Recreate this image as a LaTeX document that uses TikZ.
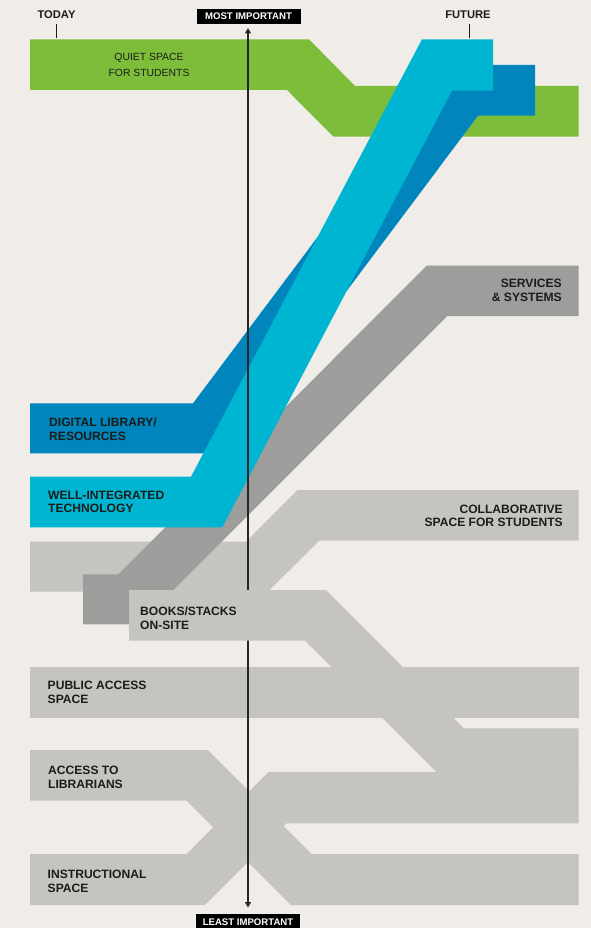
\documentclass[tikz,border=0pt]{standalone}
\usepackage{fontspec}
\setmainfont{Liberation Sans}
\usetikzlibrary{arrows.meta}
\definecolor{bgc}{HTML}{F0EDE8}
\definecolor{greenc}{HTML}{7DBD3A}
\definecolor{cyanc}{HTML}{00B5D2}
\definecolor{bluec}{HTML}{0086BC}
\definecolor{dgrayc}{HTML}{9D9D9B}
\definecolor{lgrayc}{HTML}{C6C4C1}
\definecolor{txtc}{HTML}{1C1C1A}
\tikzset{
  band/.style={draw=none},
  lbl/.style={inner sep=0pt, text=txtc, font=\bfseries\fontsize{12.1}{13.7}\selectfont},
  lleft/.style={lbl, anchor=west, align=left},
  lright/.style={lbl, anchor=east, align=right},
  tag/.style={fill=black, text=white, inner sep=0pt, minimum width=104pt, minimum height=15pt, font=\bfseries\fontsize{9.6}{10}\selectfont},
  hdr/.style={inner sep=0pt, text=txtc, font=\bfseries\fontsize{11.2}{12}\selectfont},
  tick/.style={draw=txtc, line width=0.9pt},
  axis/.style={draw=black!85, line width=1.5pt, {Triangle[length=5.5pt,width=6pt]}-{Triangle[length=5.5pt,width=6pt]}}
}
\begin{document}
\begin{tikzpicture}[x=1pt, y=-1pt]
\fill[bgc] (0,0) rectangle (591,928);
\useasboundingbox (0,0) rectangle (591,928);
% light gray bands
\fill[lgrayc] (30,541.7) -- (246,541.7) -- (297.5,490) -- (578.5,490) -- (578.5,540.5) -- (319.3,540.5) -- (268,591.7) -- (30,591.7) -- cycle;
\fill[lgrayc] (29.5,667.3) rectangle (578.5,717.7);
\fill[lgrayc] (30,750) -- (208,750) -- (311.5,854) -- (578.5,854) -- (578.5,905) -- (290.9,905) -- (186.6,800.7) -- (30,800.7) -- cycle;
\fill[lgrayc] (30,854) -- (186.6,854) -- (268.6,772) -- (578.5,772) -- (578.5,823.3) -- (286.5,823.3) -- (204.8,905) -- (30,905) -- cycle;
% dark gray band
\fill[dgrayc] (83,574.3) -- (118.4,574.3) -- (426.7,265.7) -- (578.5,265.7) -- (578.5,316) -- (447.3,316) -- (139,624.3) -- (83,624.3) -- cycle;
% green band
\fill[greenc] (30,39.3) -- (309,39.3) -- (355,86) -- (578.5,86) -- (578.5,136.7) -- (333.6,136.7) -- (287,90) -- (30,90) -- cycle;
% dark blue band
\fill[bluec] (30,403.3) -- (193,403.3) -- (446.5,65) -- (535,65) -- (535,115.7) -- (478,115.7) -- (225,453.3) -- (30,453.3) -- cycle;
% cyan band
\fill[cyanc] (30,476.7) -- (191,476.7) -- (422,39.3) -- (493,39.3) -- (493,90.7) -- (452,90.7) -- (222.3,527.3) -- (30,527.3) -- cycle;
% axis
\coordinate (axtop) at (248,28);
\coordinate (axbot) at (248,907.5);
\draw[axis] (axbot) -- (axtop);
% books band (drawn over the axis)
\fill[lgrayc] (129,590) -- (326,590) -- (464,728.3) -- (578.5,728.3) -- (578.5,778.5) -- (442.8,778.5) -- (305,640.7) -- (129,640.7) -- cycle;
% header
\node[tag] (most) at (248.5,16.5) {MOST IMPORTANT};
\node[tag, minimum height=16pt] (least) at (248,922) {LEAST IMPORTANT};
\node[hdr] (today) at (56.5,15) {TODAY};
\node[hdr] (future) at (468,15) {FUTURE};
\coordinate (todayend) at (56.5,38.3);
\coordinate (futureend) at (469,38.3);
\draw[tick] (56.5,24) -- (todayend);
\draw[tick] (469,24) -- (futureend);
% labels
\node[inner sep=0pt, align=center, text=txtc, font=\fontsize{10.4}{16.7}\selectfont] (quiet) at (149,65) {QUIET SPACE\\FOR STUDENTS};
\node[lleft] (digital) at (49,429) {DIGITAL LIBRARY/\\RESOURCES};
\node[lleft] (tech) at (48,501.7) {WELL-INTEGRATED\\TECHNOLOGY};
\node[lright] (collab) at (563,515.7) {COLLABORATIVE\\SPACE FOR STUDENTS};
\node[lright] (services) at (562,290.3) {SERVICES\\\& SYSTEMS};
\node[lleft] (books) at (140,618.3) {BOOKS/STACKS\\ON-SITE};
\node[lleft] (public) at (47.5,692) {PUBLIC ACCESS\\SPACE};
\node[lleft] (access) at (48,777) {ACCESS TO\\LIBRARIANS};
\node[lleft] (instr) at (47.5,881) {INSTRUCTIONAL\\SPACE};
\end{tikzpicture}
\end{document}
